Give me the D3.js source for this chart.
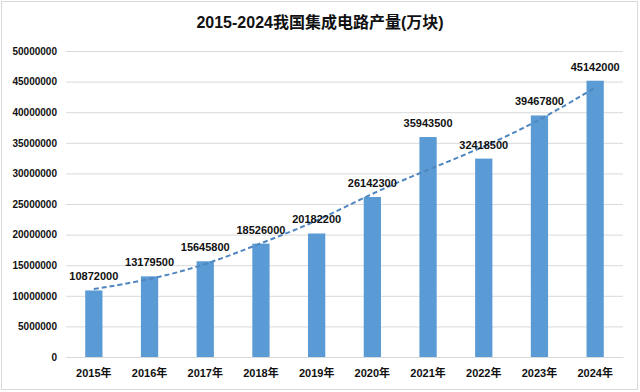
<!DOCTYPE html>
<html><head><meta charset="utf-8">
<script src="https://cdn.jsdelivr.net/npm/d3@7"></script>
<style>body{margin:0;background:#fff}svg{display:block}</style>
</head><body>
<svg id="c" width="640" height="392"></svg>
<script>
const categories = ["2015年","2016年","2017年","2018年","2019年","2020年","2021年","2022年","2023年","2024年"];
const values = [10872000,13179500,15645800,18526000,20182200,26142300,35943500,32418500,39467800,45142000];
// trendline values
const trend = [11100000,12600000,15000000,18600000,22100000,26800000,30600000,34300000,38600000,44000000];
const yTicks = [0,5000000,10000000,15000000,20000000,25000000,30000000,35000000,40000000,45000000,50000000];
const title = "2015-2024我国集成电路产量(万块)";

const svg = d3.select("#c");
const font = "'Liberation Sans','Noto Sans CJK SC',sans-serif";
svg.append("rect").attr("x",1.5).attr("y",1.5).attr("width",636).attr("height",388)
  .attr("fill","#fff").attr("stroke","#d9d9d9");

const m = {l:66, r:623, t:51, b:357};
const x = d3.scaleBand().domain(categories).range([m.l, m.r]).paddingInner(0.69).paddingOuter(0.345);
const y = d3.scaleLinear().domain([0,50000000]).range([m.b, m.t]);

svg.append("text").attr("x",320).attr("y",28).attr("text-anchor","middle")
  .attr("font-family",font).attr("font-weight","bold").attr("font-size",16).attr("fill","#111").text(title);

const ya = svg.append("g").attr("transform",`translate(${m.l},0)`)
  .call(d3.axisLeft(y).tickValues(yTicks).tickSize(-(m.r-m.l)).tickPadding(9).tickFormat(d3.format("d")));
ya.select(".domain").remove();
ya.selectAll(".tick line").attr("stroke","#d9d9d9");
ya.selectAll(".tick text").attr("font-family",font).attr("font-weight","bold").attr("font-size",10).attr("fill","#111");

const xa = svg.append("g").attr("transform",`translate(0,${m.b})`)
  .call(d3.axisBottom(x).tickSize(0).tickPadding(12));
xa.select(".domain").attr("stroke","#d9d9d9");
xa.selectAll(".tick text").attr("font-family",font).attr("font-weight","bold").attr("font-size",11).attr("fill","#111");

svg.append("g").selectAll("rect").data(values).join("rect")
  .attr("x",(d,i)=>x(categories[i])).attr("width",x.bandwidth())
  .attr("y",d=>y(d)).attr("height",d=>y(0)-y(d)).attr("fill","#5b9bd5");

svg.append("path").datum(trend).attr("fill","none").attr("stroke","#4f86bf").attr("stroke-width",2)
  .attr("stroke-dasharray","5,3")
  .attr("d", d3.line().curve(d3.curveBasis)
    .x((d,i)=>x(categories[i])+x.bandwidth()/2).y(d=>y(d)));

svg.append("g").selectAll("text").data(values).join("text")
  .attr("x",(d,i)=>x(categories[i])+x.bandwidth()/2).attr("y",d=>y(d)-10)
  .attr("text-anchor","middle").attr("font-family",font).attr("font-weight","bold").attr("font-size",11)
  .attr("fill","#111").text(d=>d);
</script>
</body></html>
